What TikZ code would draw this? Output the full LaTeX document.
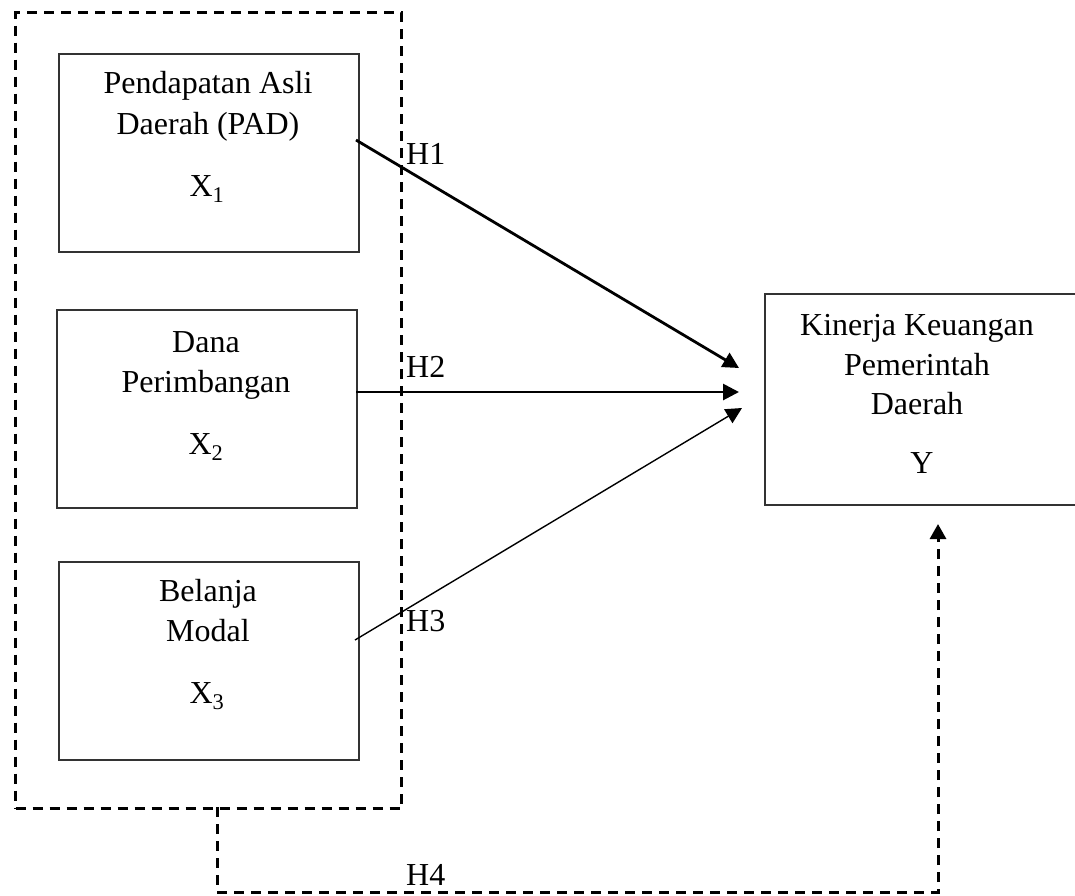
\documentclass[tikz,border=0pt]{standalone}
\usepackage{fontspec}
\setmainfont{Liberation Serif}
\usetikzlibrary{arrows.meta}
\tikzset{
  txt/.style={anchor=base,inner sep=0pt,font=\fontsize{32}{40}\selectfont},
  varbox/.style={draw=black!80,line width=1.5pt,anchor=north west,inner sep=0pt},
  grp/.style={draw=black,line width=3pt,dash pattern=on 10pt off 7pt},
  tip/.style={-{Triangle[length=16pt,width=16pt]}},
  thick arrow/.style={tip,line width=2.8pt},
  thin arrow/.style={tip,line width=1.4pt},
  hyp arrow/.style={-{Triangle[length=15pt,width=16pt]},line width=3pt,dash pattern=on 10pt off 7pt},
}
\begin{document}
\begin{tikzpicture}[x=1pt,y=-1pt]
\useasboundingbox (0,0) rectangle (1075,895);
\clip (0,0) rectangle (1075,895);
% group box
\node[grp,anchor=north west,minimum width=386pt,minimum height=796pt,inner sep=0pt] (grp) at (14,11) {};
% variable boxes
\node[varbox,minimum width=300pt,minimum height=198pt] (b1) at (58,53) {};
\node[varbox,minimum width=300pt,minimum height=198pt] (b2) at (56,309) {};
\node[varbox,minimum width=300pt,minimum height=198pt] (b3) at (58,561) {};
\node[varbox,minimum width=320pt,minimum height=211pt] (by) at (764,293) {};
% texts
\node[txt] (t1a) at (208,93) {Pendapatan Asli};
\node[txt] (t1b) at (208,134) {Daerah (PAD)};
\node[txt] (t1c) at (207,196) {X\textsubscript{1}};
\node[txt] (t2a) at (206,352) {Dana};
\node[txt] (t2b) at (206,392) {Perimbangan};
\node[txt] (t2c) at (206,454) {X\textsubscript{2}};
\node[txt] (t3a) at (208,601) {Belanja};
\node[txt] (t3b) at (208,641) {Modal};
\node[txt] (t3c) at (207,703) {X\textsubscript{3}};
\node[txt] (tya) at (917,335) {Kinerja Keuangan};
\node[txt] (tyb) at (917,375) {Pemerintah};
\node[txt] (tyc) at (917,414) {Daerah};
\node[txt] (tyd) at (922,473) {Y};
% hypothesis labels
\node[txt,anchor=base west] (h1) at (406,164) {H1};
\node[txt,anchor=base west] (h2) at (406,377) {H2};
\node[txt,anchor=base west] (h3) at (406,631) {H3};
\node[txt,anchor=base west] (h4) at (406,885) {H4};
% connector end points
\coordinate (s1) at (356,140);
\coordinate (e1) at (739,368);
\coordinate (s2) at (356,392);
\coordinate (e2) at (739,392);
\coordinate (s3) at (355,640);
\coordinate (e3) at (742,408);
\coordinate (s4) at (217,807);
\coordinate (c4a) at (217,892);
\coordinate (c4b) at (938,892);
\coordinate (e4) at (938,524);
% connectors
\draw[thick arrow] (s1) -- (e1);
\draw[thick arrow] (s2) -- (e2);
\draw[thin arrow] (s3) -- (e3);
\draw[hyp arrow] (s4) -- (c4a) -- (c4b) -- (e4);
\end{tikzpicture}
\end{document}
